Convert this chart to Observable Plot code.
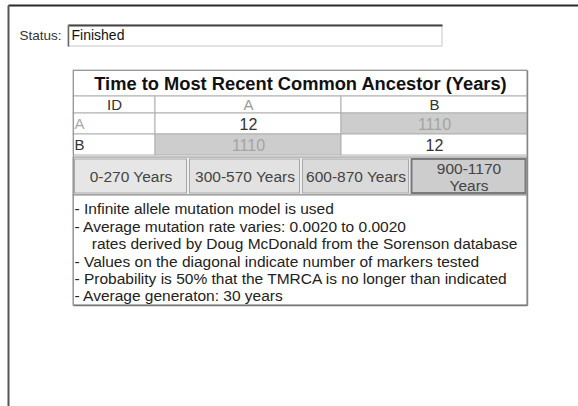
<!DOCTYPE html>
<html><head><meta charset="utf-8">
<script src="https://cdn.jsdelivr.net/npm/d3@7"></script>
<script src="https://cdn.jsdelivr.net/npm/@observablehq/plot@0.6"></script>
<style>
body{margin:0;background:#fff}
svg text{font-family:"Liberation Sans",Arial,sans-serif}
</style>
</head><body><div id="chart"></div>
<script>
// ---------- data ----------
const statusLabel = "Status:";
const statusValue = "Finished";
const tableTitle = "Time to Most Recent Common Ancestor (Years)";
const idHeader = "ID";
const ids = ["A", "B"];
const tmrcaRowA = [12, 1110];
const tmrcaRowB = [1110, 12];
const legendLabels = ["0-270 Years", "300-570 Years", "600-870 Years", "900-1170\nYears"];
const legendLow = [0, 300, 600, 900];
const legendHigh = [270, 570, 870, 1170];
const notes = [
  "- Infinite allele mutation model is used",
  "- Average mutation rate varies: 0.0020 to 0.0020",
  "\u00a0\u00a0\u00a0\u00a0rates derived by Doug McDonald from the Sorenson database",
  "- Values on the diagonal indicate number of markers tested",
  "- Probability is 50% that the TMRCA is no longer than indicated",
  "- Average generaton: 30 years"
];

// ---------- layout & style ----------
const W = 578, H = 406;
const colEdges = [73, 155, 341, 527];
const rowEdges = {titleTop: 70, headerTop: 96, bodyTop: 113, rowH: 21};
const legendBox = {y1: 157, y2: 195, edges: [73, 188, 301, 410, 527]};
const notesBox = {y1: 195, y2: 305, x: 74, y0: 209, dy: 17.4};
const legendFills = ["#e6e6e6", "#e2e2e2", "#dadada", "#cdcdcd"];
const headerInk = {ID: "#333", A: "#9a9a9a", B: "#333"};
const rowInk = {A: "#a8a8a8", B: "#333"};
const grid = "#b0b0b0";

const matrix = [tmrcaRowA, tmrcaRowB];
const binOf = v => legendLow.findIndex((lo, i) => v >= lo && v <= legendHigh[i] + 29);

const rects = [];
const texts = [];
const tx1 = colEdges[0], tx2 = colEdges[colEdges.length - 1];
rects.push({x1: tx1, x2: tx2, y1: rowEdges.titleTop, y2: rowEdges.headerTop, fill: "#fff", stroke: grid});
const headers = [idHeader, ...ids];
headers.forEach((h, j) => {
  rects.push({x1: colEdges[j], x2: colEdges[j + 1], y1: rowEdges.headerTop, y2: rowEdges.bodyTop, fill: "#fff", stroke: grid});
  texts.push({x: (colEdges[j] + colEdges[j + 1]) / 2, y: (rowEdges.headerTop + rowEdges.bodyTop) / 2 + 0.5, text: h, fill: headerInk[h], size: 15, anchor: "middle"});
});
ids.forEach((id, i) => {
  const y1 = rowEdges.bodyTop + i * rowEdges.rowH, y2 = y1 + rowEdges.rowH;
  rects.push({x1: colEdges[0], x2: colEdges[1], y1, y2, fill: "#fff", stroke: grid});
  texts.push({x: colEdges[0] + 1, y: (y1 + y2) / 2 + 0.5, text: id, fill: rowInk[id], size: 15, anchor: "start"});
  matrix[i].forEach((v, j) => {
    const diag = i === j;
    rects.push({x1: colEdges[j + 1], x2: colEdges[j + 2], y1, y2, fill: diag ? "#fff" : legendFills[binOf(v)], stroke: grid});
    texts.push({x: (colEdges[j + 1] + colEdges[j + 2]) / 2, y: (y1 + y2) / 2 + 0.5, text: String(v), fill: diag ? "#333" : "#a4a4a4", size: 16, anchor: "middle"});
  });
});

// legend row
const legendOuter = [{x1: tx1, x2: tx2, y1: legendBox.y1, y2: legendBox.y2, fill: "#eeeeee", stroke: "#8c8c8c"}];
const legendCells = legendLabels.map((lab, k) => ({
  x1: legendBox.edges[k] + 1.5, x2: legendBox.edges[k + 1] - 1.5,
  y1: legendBox.y1 + 2, y2: legendBox.y2 - 2,
  fill: legendFills[k], stroke: k === 3 ? "#7a7a7a" : "#a8a8a8", sw: k === 3 ? 2 : 1
}));
const legendTexts = legendLabels.map((lab, k) => ({
  x: (legendBox.edges[k] + legendBox.edges[k + 1]) / 2, y: (legendBox.y1 + legendBox.y2) / 2 + 0.5, text: lab
}));

// notes
const notesRect = [{x1: tx1, x2: tx2, y1: notesBox.y1, y2: notesBox.y2, fill: "#fff", stroke: "#8a8a8a"}];
const notesTexts = notes.map((t, i) => ({x: notesBox.x, y: notesBox.y0 + i * notesBox.dy, text: t}));

// frame + status box edges
const links = [
  {x1: 8, y1: 5, x2: W, y2: 5, stroke: "#2a2a2a", sw: 2},
  {x1: 8, y1: 5, x2: 8, y2: H, stroke: "#555", sw: 2},
  {x1: 68, y1: 25, x2: 442, y2: 25, stroke: "#444", sw: 2},
  {x1: 68, y1: 25, x2: 68, y2: 46, stroke: "#666", sw: 1.5},
  {x1: tx1, y1: rowEdges.titleTop, x2: tx2, y2: rowEdges.titleTop, stroke: "#999", sw: 1},
  {x1: tx1, y1: rowEdges.titleTop, x2: tx1, y2: notesBox.y2, stroke: "#999", sw: 1},
  {x1: tx2, y1: rowEdges.titleTop, x2: tx2, y2: notesBox.y2, stroke: "#888", sw: 1.5},
  {x1: tx1, y1: notesBox.y2, x2: tx2, y2: notesBox.y2, stroke: "#777", sw: 1.5}
];
const statusBox = [{x1: 68, x2: 442, y1: 25, y2: 46, fill: "#fff", stroke: "#c8c8c8"}];

const chart = Plot.plot({
  width: W, height: H, margin: 0,
  x: {domain: [0, W], range: [0, W], axis: null},
  y: {domain: [0, H], range: [0, H], axis: null},
  color: {type: "identity"},
  marks: [
    Plot.rect(statusBox, {x1: "x1", x2: "x2", y1: "y1", y2: "y2", fill: "fill", stroke: "stroke"}),
    Plot.text([statusLabel], {x: () => 19, y: () => 35.5, text: d => d, textAnchor: "start", fontSize: 13.5, fill: "#333"}),
    Plot.text([statusValue], {x: () => 71, y: () => 35.5, text: d => d, textAnchor: "start", fontSize: 14, fill: "#111"}),
    Plot.rect(rects, {x1: "x1", x2: "x2", y1: "y1", y2: "y2", fill: "fill", stroke: "stroke"}),
    Plot.text([tableTitle], {x: () => (tx1 + tx2) / 2, y: () => 83.5, text: d => d, fontSize: 18.3, fontWeight: "bold", fill: "#111"}),
    Plot.text(texts.filter(d => d.anchor === "middle"), {x: "x", y: "y", text: "text", fill: "fill", fontSize: "size", textAnchor: "middle"}),
    Plot.text(texts.filter(d => d.anchor === "start"), {x: "x", y: "y", text: "text", fill: "fill", fontSize: "size", textAnchor: "start"}),
    Plot.rect(legendOuter, {x1: "x1", x2: "x2", y1: "y1", y2: "y2", fill: "fill", stroke: "stroke"}),
    Plot.rect(legendCells, {x1: "x1", x2: "x2", y1: "y1", y2: "y2", fill: "fill", stroke: "stroke", strokeWidth: "sw"}),
    Plot.text(legendTexts, {x: "x", y: "y", text: "text", fontSize: 15.5, lineHeight: 1.1, fill: "#444", textAnchor: "middle"}),
    Plot.rect(notesRect, {x1: "x1", x2: "x2", y1: "y1", y2: "y2", fill: "fill", stroke: "stroke"}),
    Plot.text(notesTexts, {x: "x", y: "y", text: "text", fontSize: 15.5, fill: "#222", textAnchor: "start"}),
    Plot.link(links, {x1: "x1", y1: "y1", x2: "x2", y2: "y2", stroke: "stroke", strokeWidth: "sw"})
  ]
});
document.getElementById("chart").append(chart);
</script>
</body></html>
